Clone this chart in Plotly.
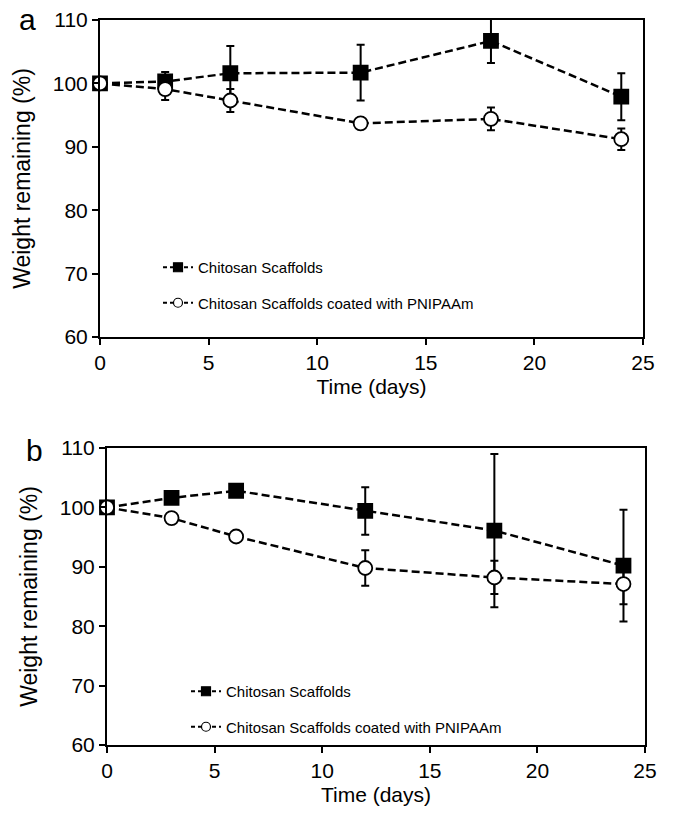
import plotly.graph_objects as go

days = [0, 3, 6, 12, 18, 24]

# Panel a
a_chitosan = [100.0, 100.3, 101.6, 101.7, 106.7, 97.9]
a_chitosan_err = [0.0, 1.5, 4.3, 4.4, 3.5, 3.7]
a_coated = [100.0, 99.1, 97.3, 93.7, 94.4, 91.2]
a_coated_err = [0.0, 1.7, 1.8, 0.5, 1.8, 1.7]

# Panel b
b_chitosan = [100.0, 101.6, 102.8, 99.4, 96.1, 90.2]
b_chitosan_err = [0.0, 0.4, 0.4, 4.0, 12.9, 9.4]
b_coated = [100.0, 98.2, 95.1, 89.8, 88.2, 87.1]
b_coated_err = [0.0, 0.4, 0.4, 3.0, 2.8, 3.4]

name_sq = "Chitosan Scaffolds"
name_ci = "Chitosan Scaffolds coated with PNIPAAm"

W, H = 675, 814
FONT = "Liberation Sans, Arial, sans-serif"
DASH = "8px,4px"

def px(v):
    return v / W

def py(v):
    return 1 - v / H

fig = go.Figure()

def add(x, y, err, name, symbol, fill, xa, ya):
    fig.add_trace(go.Scatter(
        x=x, y=y, name=name, mode="lines+markers", showlegend=False,
        xaxis=xa, yaxis=ya, cliponaxis=False, hoverinfo="skip",
        line=dict(color="black", width=2.5, dash=DASH),
        marker=dict(symbol=symbol, size=14, color=fill,
                    line=dict(color="black", width=1.8)),
        error_y=dict(type="data", array=err, visible=True,
                     color="black", thickness=2, width=4),
    ))

def add_legend(name, symbol, fill, xa, ya, legend, group):
    fig.add_trace(go.Scatter(
        x=[None], y=[None], name=name, mode="lines+markers",
        xaxis=xa, yaxis=ya, legend=legend, legendgroup=group,
        line=dict(color="black", width=2, dash="4px,3px"),
        marker=dict(symbol=symbol, size=9, color=fill,
                    line=dict(color="black", width=1.2)),
    ))

add(days, a_chitosan, a_chitosan_err, name_sq, "square", "black", "x", "y")
add(days, a_coated, a_coated_err, name_ci, "circle", "white", "x", "y")
add(days, b_chitosan, b_chitosan_err, name_sq, "square", "black", "x2", "y2")
add(days, b_coated, b_coated_err, name_ci, "circle", "white", "x2", "y2")

add_legend(name_sq, "square", "black", "x", "y", "legend", "a1")
add_legend(name_ci, "circle", "white", "x", "y", "legend", "a2")
add_legend(name_sq, "square", "black", "x2", "y2", "legend2", "b1")
add_legend(name_ci, "circle", "white", "x2", "y2", "legend2", "b2")

def xax(dom, anchor):
    return dict(domain=dom, anchor=anchor, range=[0, 25], tickvals=[0, 5, 10, 15, 20, 25],
                showline=True, linecolor="black", linewidth=2, mirror=True,
                ticks="outside", ticklen=6, tickwidth=2, tickcolor="black",
                showgrid=False, zeroline=False, automargin=False,
                tickfont=dict(family=FONT, size=21, color="black"),
                title=dict(text="Time (days)", font=dict(family=FONT, size=21, color="black"), standoff=6))

def yax(dom, anchor):
    return dict(domain=dom, anchor=anchor, range=[60, 110], tickvals=[60, 70, 80, 90, 100, 110],
                showline=True, linecolor="black", linewidth=2, mirror=True,
                ticks="outside", ticklen=6, tickwidth=2, tickcolor="black",
                showgrid=False, zeroline=False, automargin=False,
                tickfont=dict(family=FONT, size=21, color="black"),
                title=dict(text="Weight remaining (%)", font=dict(family=FONT, size=23, color="black"), standoff=16))

legfont = dict(family=FONT, size=15, color="black")

fig.update_layout(
    width=W, height=H, margin=dict(l=0, r=0, t=0, b=0, autoexpand=False),
    paper_bgcolor="white", plot_bgcolor="white",
    font=dict(family=FONT, color="black"),
    hovermode=False,
    xaxis=xax([px(100), px(643)], "y"),
    yaxis=yax([py(337), py(20)], "x"),
    xaxis2=xax([px(107), px(645)], "y2"),
    yaxis2=yax([py(745), py(448)], "x2"),
    legend=dict(x=px(158), y=py(251), xanchor="left", yanchor="top",
                bgcolor="rgba(0,0,0,0)", font=legfont,
                tracegroupgap=13, itemwidth=30),
    legend2=dict(x=px(186), y=py(675), xanchor="left", yanchor="top",
                 bgcolor="rgba(0,0,0,0)", font=legfont,
                 tracegroupgap=13, itemwidth=30),
    showlegend=True,
    annotations=[
        dict(text="a", x=px(27), y=py(20), xref="paper", yref="paper", showarrow=False,
             xanchor="center", yanchor="middle",
             font=dict(family=FONT, size=30, color="black")),
        dict(text="b", x=px(34), y=py(450), xref="paper", yref="paper", showarrow=False,
             xanchor="center", yanchor="middle",
             font=dict(family=FONT, size=30, color="black")),
    ],
)

fig.write_html("out.html", config={"displayModeBar": False},
               post_script="document.body.style.margin='0px';document.body.style.overflow='hidden';")
